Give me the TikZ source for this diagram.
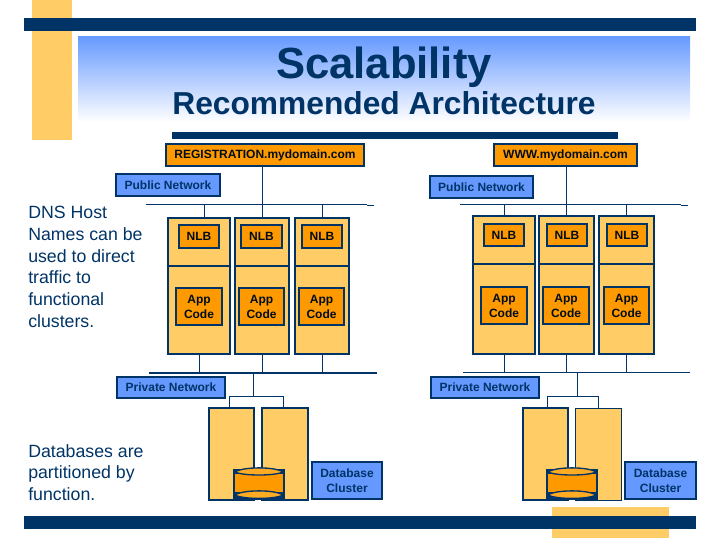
\documentclass[tikz,border=0pt]{standalone}
\usepackage{fontspec}
\setmainfont{Liberation Sans}
\usetikzlibrary{fit, calc}
\definecolor{dsNavy}{HTML}{003366}
\definecolor{dsOrange}{HTML}{FF9900}
\definecolor{dsSand}{HTML}{FFCC66}
\definecolor{dsBlue}{HTML}{6699FF}
\tikzset{
    boxbase/.style={rectangle, inner sep=0pt, draw=dsNavy, line width=1.9pt},
    hostbox/.style={boxbase, fill=dsOrange},
    netbox/.style={boxbase, fill=dsBlue},
    srvbox/.style={boxbase, fill=dsSand},
    darktext/.style={inner sep=0pt, align=center, text=black!75!dsNavy, font=\fontsize{9}{11.2}\selectfont\bfseries},
    netext/.style={inner sep=0pt, align=center, text=dsNavy, font=\fontsize{9}{11.2}\selectfont\bfseries},
    wire/.style={draw=dsNavy, line width=0.75pt},
    busline/.style={draw=dsNavy, line width=1.3pt},
    disklens/.style={draw=dsNavy, fill=dsOrange!65!dsSand, line width=1pt},
    sidetext/.style={inner sep=0pt, anchor=north west, align=left, text=dsNavy, font=\fontsize{13.3}{16.3}\selectfont},
}
\begin{document}
\begin{tikzpicture}[x=0.75pt, y=-0.75pt]
    \useasboundingbox (0,0) rectangle (720,540);

    % Frame
    \fill[dsSand] (32,0) rectangle (72,140);
    \fill[dsSand] (552,507) rectangle (669,538);
    \shade[top color=dsBlue, bottom color=white] (78,36) rectangle (690,122);
    \fill[dsNavy] (24,18) rectangle (696,31);
    \fill[dsNavy] (172,132) rectangle (618,139);
    \fill[dsNavy] (24,516) rectangle (696,529);

    % Titles
    \node[text=dsNavy, font=\fontsize{32.7}{36}\selectfont\bfseries] (title) at (384,67) {Scalability};
    \node[text=dsNavy, font=\fontsize{23.8}{28}\selectfont\bfseries] (subtitle) at (384,103) {Recommended Architecture};

    % Side notes
    \node[sidetext] (noteDns) at (28,206) {DNS Host\\Names can be\\used to direct\\traffic to\\functional\\clusters.};
    \node[sidetext] (noteDb) at (28,444) {Databases are\\partitioned by\\function.};

    % Host names and network labels
    \node[hostbox, fit={(166,144) (364,166)}, label={[darktext]center:REGISTRATION.mydomain.com}] (hostReg) {};
    \node[hostbox, fit={(494,144) (637,166)}, label={[darktext]center:WWW.mydomain.com}] (hostWww) {};
    \node[netbox, fit={(116,174) (220,196)}, label={[netext]center:Public Network}] (pubL) {};
    \node[netbox, fit={(430,176) (533,198)}, label={[netext]center:Public Network}] (pubR) {};
    \node[netbox, fit={(117,377) (225,398)}, label={[netext]center:Private Network}] (privL) {};
    \node[netbox, fit={(431,377) (539,398)}, label={[netext]center:Private Network}] (privR) {};

    % Left servers
    \foreach \id/\xa/\xb/\na/\nb/\pa/\pb in {A/168/230/179/219/176/222, B/235/289/241/282/239/284, C/295/349/302/342/299/344} {
        \node[srvbox, fit={(\xa,218) (\xb,266)}] (nlbL\id) {};
        \node[srvbox, fit={(\xa,266) (\xb,354)}] (appL\id) {};
        \node[hostbox, fit={(\na,225) (\nb,248)}, label={[darktext]center:NLB}] (nlbTextL\id) {};
        \node[hostbox, fit={(\pa,288) (\pb,325)}, label={[darktext]center:App\\Code}] (appTextL\id) {};
    }

    % Right servers
    \foreach \id/\xa/\xb/\na/\nb/\pa/\pb in {A/473/535/484/524/481/527, B/539/594/547/587/543/589, C/599/654/607/647/604/649} {
        \node[srvbox, fit={(\xa,216) (\xb,264)}] (nlbR\id) {};
        \node[srvbox, fit={(\xa,264) (\xb,354)}] (appR\id) {};
        \node[hostbox, fit={(\na,224) (\nb,246)}, label={[darktext]center:NLB}] (nlbTextR\id) {};
        \node[hostbox, fit={(\pa,287) (\pb,324)}, label={[darktext]center:App\\Code}] (appTextR\id) {};
    }

    % Public buses
    \coordinate (pubLa) at (146,204);
    \coordinate (pubLb) at (367,204);
    \coordinate (pubLc) at (374,205);
    \coordinate (pubRa) at (460,204);
    \coordinate (pubRb) at (681,204);
    \coordinate (pubRc) at (688,205);
    \draw[wire] (pubLa) -- (pubLb);
    \draw[wire] (pubLb |- pubLc) -- (pubLc);
    \draw[wire] (pubRa) -- (pubRb);
    \draw[wire] (pubRb |- pubRc) -- (pubRc);
    \draw[wire] (hostReg.south -| nlbLB.north) -- (nlbLB.north);
    \draw[wire] (hostWww.south -| nlbRB.north) -- (nlbRB.north);
    \draw[wire] (nlbLA.north) ++(5,0) coordinate (tapLA) -- (tapLA |- pubLa);
    \draw[wire] (nlbLC.north) -- (nlbLC.north |- pubLa);
    \draw[wire] (nlbRA.north) -- (nlbRA.north |- pubRa);
    \draw[wire] (nlbRC.north) -- (nlbRC.north |- pubRa);

    % Private buses
    \coordinate (privLa) at (149,373);
    \coordinate (privLb) at (377,373);
    \coordinate (privRa) at (463,372);
    \coordinate (privRb) at (690,372);
    \draw[busline] (privLa) -- (privLb);
    \draw[wire] (privRa) -- (privRb);
    \foreach \id in {A,B,C} {
        \draw[wire] (appL\id.south) -- (appL\id.south |- privLa);
        \draw[wire] (appR\id.south) -- (appR\id.south |- privRa);
    }

    % Database servers
    \node[srvbox, fit={(209,408) (254,500)}] (dbLa) {};
    \node[srvbox, fit={(262,408) (308,500)}] (dbLb) {};
    \node[srvbox, fit={(523,408) (568,500)}] (dbRa) {};
    \node[srvbox, line width=0.75pt, fit={(575,408) (621,500)}] (dbRb) {};
    \node[netbox, fit={(312,462) (382,499)}, label={[netext]center:Database\\Cluster}] (clusterL) {};
    \node[netbox, fit={(625,462) (696,499)}, label={[netext]center:Database\\Cluster}] (clusterR) {};

    % Database links
    \coordinate (forkL) at (253,396);
    \coordinate (forkR) at (577,396);
    \draw[wire] (forkL |- privLa) -- (forkL);
    \draw[wire] (forkR |- privRa) -- (forkR);
    \draw[wire] (dbLa.north) ++(-2.5,0) coordinate (topLa) -- (topLa |- forkL) -| ($(dbLb.north)+(-2,0)$);
    \draw[wire] (dbRa.north) ++(1.5,0) coordinate (topRa) -- (topRa |- forkR) -| (dbRb.north);

    % Disks
    \foreach \id/\xa/\xb in {L/233/285, R/546/598} {
        \fill[dsNavy] (\xa,469) rectangle (\xb,500);
        \fill[dsOrange] (\xa+2,474) rectangle (\xb-2,492);
        \draw[disklens] (\xa+2,472) .. controls (\xa+10,466.5) and (\xb-10,466.5) .. (\xb-2,472) .. controls (\xb-10,476) and (\xa+10,476) .. (\xa+2,472) -- cycle;
        \draw[disklens] (\xa+2,495) .. controls (\xa+10,489.5) and (\xb-10,489.5) .. (\xb-2,495) .. controls (\xb-10,499.5) and (\xa+10,499.5) .. (\xa+2,495) -- cycle;
    }
\end{tikzpicture}
\end{document}
